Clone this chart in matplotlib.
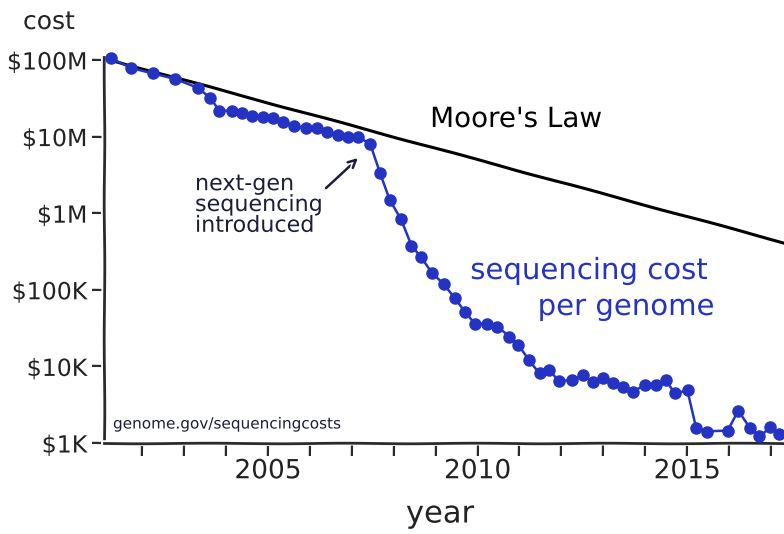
import matplotlib
matplotlib.use("Agg")
import matplotlib.pyplot as plt
from matplotlib.ticker import FixedLocator, FixedFormatter, NullLocator

# ---- data ----
years = [2001.26, 2001.74, 2002.27, 2002.79, 2003.34, 2003.62, 2003.84, 2004.14,
         2004.38, 2004.63, 2004.88, 2005.13, 2005.37, 2005.63, 2005.91, 2006.18,
         2006.42, 2006.67, 2006.91, 2007.16, 2007.44, 2007.68, 2007.91, 2008.17,
         2008.42, 2008.65, 2008.91, 2009.20, 2009.47, 2009.70, 2009.94, 2010.22,
         2010.46, 2010.76, 2010.97, 2011.23, 2011.48, 2011.71, 2011.95, 2012.25,
         2012.51, 2012.75, 2012.99, 2013.24, 2013.48, 2013.70, 2014.00, 2014.26,
         2014.50, 2014.71, 2015.01, 2015.21, 2015.48, 2015.97, 2016.22, 2016.50,
         2016.72, 2016.98, 2017.20]
cost = [1.05e8, 7.93e7, 6.70e7, 5.65e7, 4.27e7, 3.16e7, 2.16e7, 2.18e7,
        2.01e7, 1.87e7, 1.79e7, 1.77e7, 1.57e7, 1.39e7, 1.28e7, 1.28e7,
        1.16e7, 1.05e7, 9.8e6, 9.8e6, 8.0e6, 3.38e6, 1.49e6, 8.3e5,
        3.73e5, 2.66e5, 1.67e5, 1.19e5, 7.75e4, 5.18e4, 3.58e4, 3.58e4,
        3.30e4, 2.44e4, 1.90e4, 1.21e4, 8.13e3, 8.97e3, 6.50e3, 6.64e3,
        7.72e3, 6.31e3, 7.0e3, 6.12e3, 5.33e3, 4.67e3, 5.72e3, 5.72e3,
        6.64e3, 4.45e3, 4.92e3, 1.56e3, 1.41e3, 1.44e3, 2.64e3, 1.58e3,
        1.23e3, 1.60e3, 1.31e3]

moore_years = [2001.09, 2017.31]
moore_cost = [1.05e8, 4.1e5]

ytick_vals = [1e3, 1e4, 1e5, 1e6, 1e7, 1e8]
ytick_labels = ["\\$1K", "\\$10K", "\\$100K", "\\$1M", "\\$10M", "\\$100M"]
xtick_vals = list(range(2002, 2018))
xtick_labels = ["2005" if y == 2005 else "2010" if y == 2010 else "2015" if y == 2015 else "" for y in xtick_vals]

BLUE = "#2433c2"
NAVY = "#1c1c3c"
INK = "#2b2b2b"
W, H = 784, 534

with plt.xkcd(scale=0.3, length=150, randomness=2):
    plt.rcParams["font.family"] = ["DejaVu Sans"]
    fig = plt.figure(figsize=(W / 100, H / 100), dpi=100)
    ax = fig.add_axes([104 / W, 1 - 443 / H, 1 - 104 / W, (443 - 57) / H])

    ax.plot(moore_years, moore_cost, color="black", lw=2.2, clip_on=False, zorder=2,
            path_effects=[])
    ax.plot(years, cost, color=BLUE, lw=1.8, marker="o", ms=8, mec=BLUE, mfc=BLUE,
            clip_on=False, zorder=3, path_effects=[])

    ax.set_yscale("log")
    ax.set_ylim(1000, 1.094e8)
    ax.set_xlim(2001.09, 2017.31)

    ax.yaxis.set_major_locator(FixedLocator(ytick_vals))
    ax.yaxis.set_major_formatter(FixedFormatter(ytick_labels))
    ax.yaxis.set_minor_locator(NullLocator())
    ax.xaxis.set_major_locator(FixedLocator(xtick_vals))
    ax.xaxis.set_major_formatter(FixedFormatter(xtick_labels))
    ax.xaxis.set_minor_locator(NullLocator())

    for s in ["top", "right"]:
        ax.spines[s].set_visible(False)
    for s in ["left", "bottom"]:
        ax.spines[s].set_color(INK)
        ax.spines[s].set_linewidth(2.0)
    ax.tick_params(axis="both", direction="out", length=9, width=1.6, color=INK,
                   labelcolor="#222222")
    ax.tick_params(axis="y", labelsize=17, pad=3)
    ax.tick_params(axis="x", labelsize=19, pad=2)

    def fx(x):
        return x / W

    def fy(y):
        return 1 - y / H

    fig.text(fx(23), fy(22), "cost", fontsize=18, color="#222222", va="center", ha="left")
    fig.text(fx(440), fy(514), "year", fontsize=22, color="#222222", va="center", ha="center")
    fig.text(fx(516), fy(119), "Moore's Law", fontsize=20, color="black", va="center", ha="center")
    fig.text(fx(589), fy(271), "sequencing cost", fontsize=21, color=BLUE, va="center", ha="center")
    fig.text(fx(626), fy(307), "per genome", fontsize=21, color=BLUE, va="center", ha="center")
    fig.text(fx(195), fy(205), "next-gen\nsequencing\nintroduced", fontsize=16, color=NAVY,
             va="center", ha="left", linespacing=1.05)
    fig.text(fx(113), fy(424), "genome.gov/sequencingcosts", fontsize=11, color=NAVY,
             va="center", ha="left")

    fig.patches.append(matplotlib.patches.FancyArrowPatch(
        (fx(324), fy(190)), (fx(360), fy(156)), transform=fig.transFigure,
        arrowstyle="->", mutation_scale=14, color=NAVY, lw=1.8))

    fig.savefig("out.png", dpi=100)
